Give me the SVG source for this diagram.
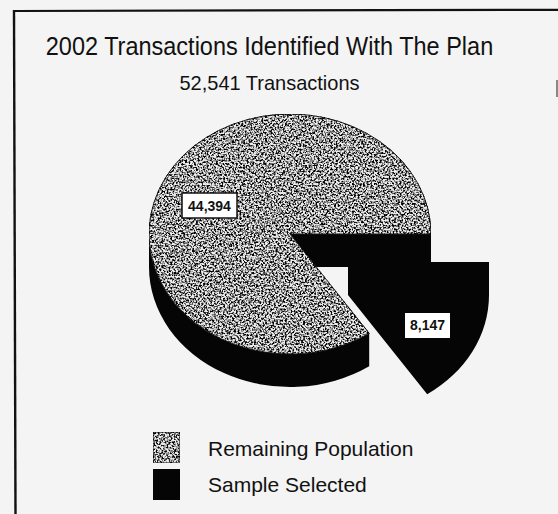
<svg xmlns="http://www.w3.org/2000/svg" width="558" height="514" viewBox="0 0 558 514">
  <style>
    text { font-family: "Liberation Sans", Arial, sans-serif; fill: #111; }
    .title { font-size: 23.5px; text-anchor: middle; }
    .sub { font-size: 20px; text-anchor: middle; }
    .legend { font-size: 21px; }
    .value { font-size: 14px; font-weight: bold; text-anchor: middle; }
    .dark { fill: #050505; }
    .speckled { fill: #ececec; filter: url(#grain); }
  </style>
  <defs>
    <!-- stippled grey fill: light base with dark noise speckles -->
    <filter id="grain" x="0" y="0" width="100%" height="100%" color-interpolation-filters="sRGB">
      <feTurbulence type="fractalNoise" baseFrequency="0.55" numOctaves="2" seed="7" result="noise"/>
      <feColorMatrix in="noise" type="matrix" values="0 0 0 0 0  0 0 0 0 0  0 0 0 0 0  4 0 0 0 -1.65" result="dots"/>
      <feComposite in="dots" in2="SourceGraphic" operator="in" result="clipped"/>
      <feMerge>
        <feMergeNode in="SourceGraphic"/>
        <feMergeNode in="clipped"/>
      </feMerge>
    </filter>
  </defs>

  <!-- page background and frame -->
  <rect x="0" y="0" width="558" height="514" fill="#f4f4f4"/>
  <g id="frame" stroke="#111" fill="none">
    <line x1="13" y1="11" x2="558" y2="9.8" stroke-width="2.2"/>
    <line x1="14" y1="10" x2="15.5" y2="514" stroke-width="2.4"/>
  </g>
  <rect x="556" y="80" width="2" height="17" fill="#888"/>

  <!-- headings -->
  <g id="title">
    <text class="title" transform="translate(269.5,55) scale(1,1.12)">2002 Transactions Identified With The Plan</text>
    <text class="sub" transform="translate(269.5,90) scale(1,1.05)">52,541 Transactions</text>
  </g>

  <!-- pie: centre (290,234), radii 141 x 120, depth 33 -->
  <g id="slice-remaining">
    <!-- cut wall at 0 degrees, seen through the gap -->
    <path class="dark" d="M290,234 L431,234 L431,267 L290,267 Z"/>
    <!-- front rim -->
    <path class="dark" d="M149,234 A141,120 0 0 0 369.2,333.3 L369.2,366.3 A141,120 0 0 1 149,267 Z"/>
    <!-- top face -->
    <path class="speckled" stroke="#222" stroke-width="1" d="M290,234 L431,234 A141,120 0 1 0 369.2,333.3 Z"/>
  </g>

  <g id="slice-sample">
    <!-- pulled-out slice, offset (58,28): top, rim and cut wall are all black, drawn as one outline -->
    <path class="dark" d="M348,262 L489,262 L489,295 A141,120 0 0 1 427.2,394.3 L348,295 Z"/>
  </g>

  <!-- value labels -->
  <g id="label-remaining">
    <rect x="182" y="193" width="55" height="25" fill="#fff" stroke="#111" stroke-width="1.5"/>
    <text class="value" x="209.5" y="211">44,394</text>
  </g>
  <g id="label-sample">
    <rect x="405" y="313" width="45" height="25" fill="#fff"/>
    <text class="value" x="427.5" y="330">8,147</text>
  </g>

  <!-- legend -->
  <g id="legend-remaining">
    <rect class="speckled" x="153" y="432" width="27" height="31" stroke="#333" stroke-width="1.2"/>
    <text class="legend" x="208" y="456">Remaining Population</text>
  </g>
  <g id="legend-sample">
    <rect class="dark" x="153" y="469" width="27" height="31"/>
    <text class="legend" x="208" y="492">Sample Selected</text>
  </g>
</svg>
